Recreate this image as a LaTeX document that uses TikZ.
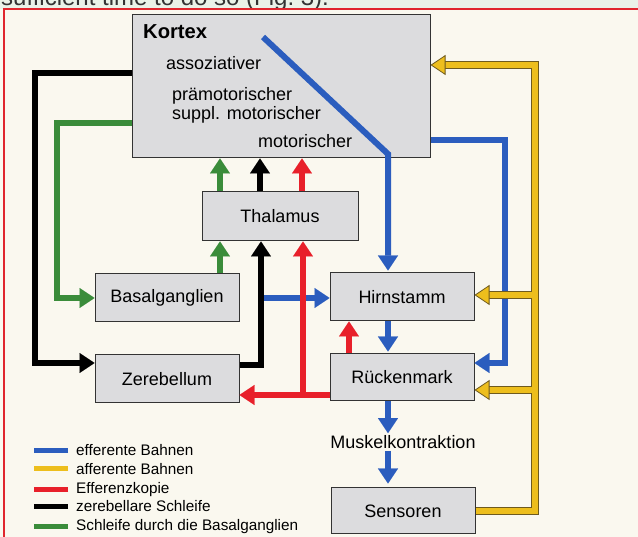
\documentclass[tikz,border=0pt]{standalone}
\usepackage{fontspec}
\setmainfont{Liberation Sans}
\usetikzlibrary{arrows.meta}
\definecolor{paper}{HTML}{FAF8EF}
\definecolor{strip}{HTML}{EAF2E8}
\definecolor{framered}{HTML}{E0262E}
\definecolor{boxgray}{HTML}{DCDCDE}
\definecolor{effblue}{HTML}{2B5DBE}
\definecolor{affyellow}{HTML}{EDBE1C}
\definecolor{affedge}{HTML}{6E5A1E}
\definecolor{ekored}{HTML}{E8202A}
\definecolor{basgreen}{HTML}{3A8C3A}
\def\boxw{144}
\def\boxh{48}
\def\lw{6pt}
\def\keyskip{18.7}
\tikzset{
  box/.style={
    draw=black!80,fill=boxgray,line width=1pt,
    inner sep=0pt,minimum width=\boxw pt,minimum height=\boxh pt,
    font=\fontsize{18}{20}\selectfont
},
  conn/.style={line width=\lw,line join=miter,
    -{Triangle[length=15pt,width=20pt,line width=0.1pt]}},
  eff/.style={conn,draw=effblue},
  eko/.style={conn,draw=ekored},
  zer/.style={conn,draw=black},
  bas/.style={conn,draw=basgreen},
  affout/.style={draw=affedge,line width=8pt,line join=miter,shorten >=13pt},
  affin/.style={draw=affyellow,line width=6pt,line join=miter,
    -{Triangle[length=15pt,width=20pt,fill=affyellow,color=affedge,line width=0.8pt]}},
  lab/.style={anchor=base west,inner sep=0pt,font=\fontsize{18}{20}\selectfont},
  key/.style={anchor=mid west,inner sep=0pt,font=\fontsize{15.3}{17}\selectfont}
}

\begin{document}
\begin{tikzpicture}[x=1pt,y=-1pt,line cap=butt]
\useasboundingbox (0,0) rectangle (638,537);
\fill[strip] (0,0) rectangle (638,9);
\fill[paper] (0,9) rectangle (638,537);
\begin{scope}
  \clip (0,0) rectangle (638,8);
  \node[anchor=base west,inner sep=0pt,font=\fontsize{24}{24}\selectfont,text=black!80]
    (caption) at (1,5.5) {sufficient time to do so (Fig.~3).};
\end{scope}
\draw[framered,line width=2pt] (4,9) rectangle (660,560);

% Kaesten
\node[box,minimum width=298pt,minimum height=143pt] (kortex) at (281,86.5) {};
\node[lab,font=\fontsize{20.2}{22}\selectfont\bfseries] (kortexlab) at (143,39) {Kortex};
\node[lab] (assoz) at (166,70) {assoziativer};
\node[lab] (praemot) at (172,101) {prämotorischer};
\node[lab] (suppl) at (172,119.3) {suppl. motorischer};
\node[lab] (motor) at (258,148) {motorischer};
\node[box,minimum width=156pt,minimum height=49pt] (thal) at (280,216.5) {Thalamus};
\node[box] (basal) at (167,298) {Basalganglien};
\node[box] (zereb) at (167,379) {Zerebellum};
\node[box] (hirn) at (402,297) {Hirnstamm};
\node[box,minimum height=47pt] (ruck) at (402,377.5) {Rückenmark};
\node[font=\fontsize{18}{20}\selectfont,inner sep=2pt] (muskel) at (403,442) {Muskelkontraktion};
\node[box,minimum height=46pt] (sens) at (403,511) {Sensoren};

\coordinate (effx) at (388,0);
\coordinate (diagstart) at (263,37);
\coordinate (bend) at (388,154);
\coordinate (basalout) at (264,298);
\coordinate (ekosplit) at (303,395);

% efferente Bahnen
\draw[eff] (diagstart) -- (bend) -- ([yshift=2pt]hirn.north -| effx);
\draw[eff] (kortex.east |- 0,140) -- (505,140) |- (ruck.east |- 0,363);
\draw[eff] (basalout) -- (hirn.west |- basalout);
\draw[eff] (hirn.south -| effx) -- ([yshift=2pt]ruck.north -| effx);
\draw[eff] (ruck.south -| effx) -- (muskel.north -| effx);
\draw[eff] (muskel.south -| effx) -- ([yshift=4pt]sens.north -| effx);

% Schleifen
\draw[zer] (kortex.west |- 0,73) -- (35,73) |- (zereb.west |- 0,363);
\draw[bas] (kortex.west |- 0,123) -- (57,123) |- (basal.west);
\foreach \st/\x in {bas/220,zer/260,eko/302}{
    \draw[\st] (thal.north -| \x,0) -- (kortex.south -| \x,0);
}
\draw[bas] (basal.north -| 220,0) -- (thal.south -| 220,0);
\draw[zer] (zereb.east |- 0,365) -| (thal.south -| 261,0);

% Efferenzkopie
\draw[eko] (ruck.west |- ekosplit) -| (thal.south -| ekosplit);
\draw[eko] (ekosplit) -- (zereb.east |- ekosplit);
\draw[eko] (ruck.north -| 349,0) -- (hirn.south -| 349,0);

% afferente Bahnen
\foreach \st in {affout,affin}{
    \draw[\st] (sens.east) -- (535,511) |- (kortex.east |- 0,65);
    \draw[\st] (535,295) -- (hirn.east |- 0,295);
    \draw[\st] (535,390) -- (ruck.east |- 0,390);
}

% Legende
\foreach \c/\t[count=\i from 0] in {effblue/efferente Bahnen,affyellow/afferente Bahnen,
    ekored/Efferenzkopie,black/zerebellare Schleife,basgreen/Schleife durch die Basalganglien}{
    \node[key] (key\i) at (76,{453+\keyskip*\i}) {\t};
    \draw[\c,line width=5pt] ([xshift=-8pt]key\i.west) -- ++(-34,0);
}
\end{tikzpicture}
\end{document}
